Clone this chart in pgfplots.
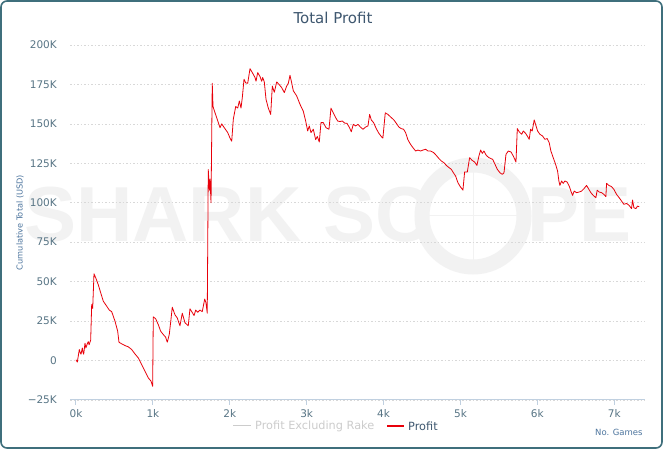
\documentclass[border=0pt]{standalone}
\usepackage{pgfplots}
\pgfplotsset{compat=1.18}
\usepackage{fontspec}
\setmainfont{DejaVu Sans}
\newfontfamily\wmfont{Liberation Sans}
\definecolor{framecol}{HTML}{3F6F7C}
\definecolor{titlecol}{HTML}{3E576F}
\definecolor{axtitlecol}{HTML}{4D759E}
\definecolor{labcol}{HTML}{587585}
\definecolor{xaxcol}{HTML}{C0D0E0}
\definecolor{gridcol}{HTML}{D8D8D8}
\definecolor{wmcol}{HTML}{F2F2F2}
\definecolor{profitcol}{HTML}{E8000A}
\definecolor{hiddencol}{HTML}{CCCCCC}
\begin{document}
\begin{tikzpicture}[x=1bp,y=1bp]
\useasboundingbox (0,0) rectangle (665,450);
\fill[white] (0,0) rectangle (665,450);
% watermark
\node[anchor=base west, inner sep=0, text=wmcol, font=\wmfont\bfseries\fontsize{78bp}{78bp}\selectfont] at (24,208) {SHARK SC};
\draw[wmcol, line width=15bp] (473,234) circle (51);
\draw[wmcol, line width=1bp] (473,180) -- (473,290);
\draw[wmcol, line width=1bp] (420,234) -- (526,234);
\node[anchor=base west, inner sep=0, text=wmcol, font=\wmfont\bfseries\fontsize{78bp}{78bp}\selectfont] at (527,208) {PE};
% frame
\draw[framecol, line width=1.6bp, rounded corners=6bp] (1,2) rectangle (662,449);
% title
\node[text=titlecol, font=\fontsize{15bp}{18bp}\selectfont] at (333,432) {Total Profit};
\begin{axis}[
  at={(70bp,50bp)}, anchor=south west,
  scale only axis, width=575bp, height=355bp,
  xmin=-78, xmax=7400, ymin=-25, ymax=200,
  axis x line*=bottom, axis y line*=left,
  x axis line style={draw=xaxcol, line width=1bp, -},
  y axis line style={draw=none},
  xtick={0,1000,2000,3000,4000,5000,6000,7000},
  xticklabels={0k,1k,2k,3k,4k,5k,6k,7k},
  ytick={-25,0,25,50,75,100,125,150,175,200},
  yticklabels={−25K,0,25K,50K,75K,100K,125K,150K,175K,200K},
  tick align=outside,
  major tick length=5bp,
  xtick style={draw=xaxcol, line width=1bp},
  ytick style={draw=none},
  ymajorgrids,
  major grid style={draw=gridcol, line width=0.6bp, dash pattern=on 1.5bp off 2bp},
  xticklabel style={text=labcol, font=\fontsize{10.5bp}{12bp}\selectfont, inner sep=0pt, yshift=-4bp},
  yticklabel style={text=labcol, font=\fontsize{10.5bp}{12bp}\selectfont, inner sep=0pt, anchor=east, xshift=-8bp},
  ylabel={Cumulative Total (USD)},
  ylabel style={text=axtitlecol, font=\fontsize{8.2bp}{10bp}\selectfont, at={(axis description cs:-0.087,0.5)}, anchor=center, rotate=0},
  xlabel={No. Games},
  xlabel style={text=axtitlecol, font=\fontsize{8.5bp}{10bp}\selectfont, at={(axis description cs:1.002,-0.09)}, anchor=east},
  clip=false,
]
\addplot[profitcol, line width=0.8bp, line join=round] coordinates {
(0,0.5) (17,-1) (30,3) (43,7) (55,5) (65,4) (82,8) (92,5) (100,4) (117,11) (128,8) (139,9.5) (150,11) (160,12) (170,10) (178,11) (191,13) (204,35.5) (217,33) (234,55) (256,52.5) (290,48) (321,43) (355,37.6) (399,34.5) (433,32) (464,31) (507,25) (542,18.6) (559,11.6) (594,10.6) (637,9.5) (680,8.7) (724,7) (767,4.2) (810,1.7) (854,-2.5) (897,-6.8) (940,-11) (975,-13) (997,-16.3)
(1005,27.7) (1036,26.5) (1070,22.8) (1101,18.6) (1135,16.5) (1166,14.8) (1187,11.6) (1213,16.5) (1235,26) (1252,33.8) (1287,29) (1317,27) (1352,22) (1382,30) (1417,24) (1460,22) (1482,32.8) (1518,30) (1535,28.5) (1557,32) (1583,30.6) (1612,32) (1642,31) (1674,39) (1690,36.6) (1707,30)
(1720,121) (1736,108) (1743,115) (1756,100) (1772,175.7) (1782,161) (1808,157) (1843,152) (1873,147.6) (1895,150) (1928,147.6) (1973,144.5) (2003,141) (2025,139) (2046,153) (2077,161) (2103,160) (2124,164.5) (2146,160) (2163,166.7) (2185,178.3) (2207,176) (2233,175.7) (2263,185) (2293,182.5) (2328,179.4) (2341,177) (2363,182.5) (2393,180) (2415,177) (2428,179.4) (2449,176.6) (2471,165.6) (2501,160) (2532,156) (2553,174) (2579,170) (2610,176.6) (2640,175) (2675,173) (2709,169.8) (2740,174) (2761,175.7) (2783,180.8) (2805,176) (2826,171) (2870,167.7) (2913,162.4) (2956,158) (2987,151.8)
(3013,145.5) (3034,148.7) (3056,144.5) (3086,146.6) (3117,140) (3138,142) (3164,138.5) (3186,150.8) (3216,150.8) (3251,147.6) (3290,146.6) (3316,160) (3346,157) (3377,154) (3403,151.8) (3433,151.5) (3463,151.8) (3498,150.4) (3523,150.4) (3557,147.6) (3580,145) (3606,149.7) (3636,148.7) (3668,149.7) (3698,148) (3732,146.6) (3767,148) (3797,148.7) (3819,156) (3840,152.5) (3870,150.8) (3905,147) (3939,144) (3970,142) (3991,141)
(4022,157) (4056,156) (4100,154) (4134,152.5) (4165,150.4) (4199,148) (4230,147) (4260,146.6) (4286,144.5) (4316,140) (4351,137) (4381,135) (4417,132.8) (4447,133.4) (4482,132.8) (4512,133.4) (4547,133.9) (4577,132.8) (4612,132.8) (4651,131.8) (4686,130) (4720,128) (4751,126.5) (4785,125.4) (4816,123.7) (4850,122.3) (4881,121.2) (4902,119.5) (4937,116.9) (4967,112.7) (4998,110.2) (5032,108)
(5054,119.5) (5089,119.5) (5119,128.6) (5149,127) (5184,125.8) (5214,123.7) (5240,129.6) (5262,133.4) (5284,131.3) (5305,132.8) (5336,130) (5370,128.6) (5419,127.5) (5449,124.4) (5479,121.2) (5514,119) (5544,118) (5566,119) (5592,130.7) (5622,132.8) (5657,132.2) (5687,129.6) (5722,125.8) (5739,147) (5765,144.9) (5796,143.4) (5817,145.5) (5847,144) (5873,142) (5894,140.2) (5912,146.6) (5933,145.5) (5959,152.5) (5981,149)
(6003,145.5) (6033,143.4) (6068,142.3) (6098,140.2) (6128,140.7) (6154,138.1) (6176,132.8) (6206,128.6) (6237,124.4) (6263,120.1) (6280,113.8) (6293,111) (6315,113.8) (6336,112.3) (6358,113.8) (6388,113.1) (6414,110.6) (6436,107.4) (6458,104.7) (6479,107.4) (6510,106.4) (6544,106.8) (6575,107.4) (6605,108.9) (6640,111) (6670,108.5) (6696,106.4) (6726,104.7) (6761,103.2) (6778,108) (6804,106.8) (6835,106.4) (6865,105.3) (6891,103.9) (6900,112.3) (6930,111) (6965,110.2) (6995,108.5)
(7030,105.3) (7064,103.2) (7095,101.1) (7125,99) (7160,99.6) (7194,98.3) (7225,96.3) (7238,101.7) (7255,96.9) (7281,96.3) (7303,97.9) (7324,97.5)
};
\end{axis}
% legend
\draw[hiddencol, line width=1bp] (233,24) -- (251,24);
\node[anchor=west, inner sep=0, text=hiddencol, font=\fontsize{11.3bp}{13bp}\selectfont] at (255,24) {Profit Excluding Rake};
\draw[profitcol, line width=1.1bp] (387,24) -- (404,24);
\node[anchor=west, inner sep=0, text=titlecol, font=\fontsize{11.3bp}{13bp}\selectfont] at (408,24) {Profit};
\end{tikzpicture}
\end{document}
